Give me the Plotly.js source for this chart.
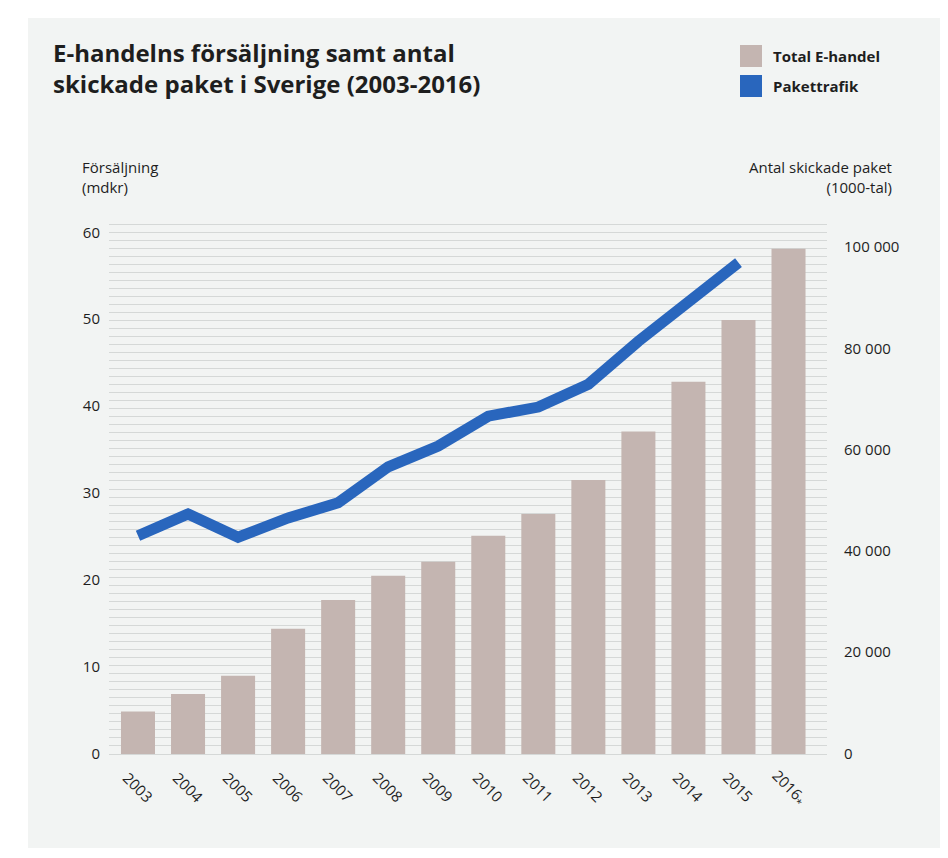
<!DOCTYPE html>
<html>
<head>
<meta charset="utf-8">
<script src="https://cdn.plot.ly/plotly-3.0.1.min.js"></script>
<style>html,body{margin:0;padding:0;background:#fff;}#chart{width:948px;height:858px;}
#chart .scatterlayer .js-line{stroke-linejoin:miter !important;stroke-linecap:butt !important;}</style>
</head>
<body>
<div id="chart"></div>
<script>
const years = ['2003','2004','2005','2006','2007','2008','2009','2010','2011','2012','2013','2014','2015','2016*'];
const yearLabels = ['2003','2004','2005','2006','2007','2008','2009','2010','2011','2012','2013','2014','2015','2016<sub>*</sub>'];
const sales = [4.9, 6.9, 9.0, 14.4, 17.7, 20.5, 22.1, 25.1, 27.6, 31.5, 37.1, 42.8, 49.9, 58.1];
const parcelYears = ['2003','2004','2005','2006','2007','2008','2009','2010','2011','2012','2013','2014','2015'];
const parcels = [43000, 47300, 42700, 46500, 49500, 56600, 60700, 66600, 68400, 72900, 81400, 89100, 96900];
const leftTicks = [0, 10, 20, 30, 40, 50, 60];
const rightTicks = [0, 20000, 40000, 60000, 80000, 100000];

const FONT = 'Open Sans, Noto Sans, sans-serif';
const TXT = '#1e1e1e';
const BAR = '#c4b5b1';
const LINE = '#2966bd';
const BG = '#f2f4f3';

const traces = [
  {type:'bar', x: years, y: sales, name:'Total E-handel', marker:{color:BAR}, width:0.68, xaxis:'x', yaxis:'y'},
  {type:'scatter', mode:'lines', x: parcelYears, y: parcels, name:'Pakettrafik', line:{color:LINE, width:11}, xaxis:'x', yaxis:'y2'},
  {type:'scatter', mode:'none', x:[years[0]], y:[0], yaxis:'y3', showlegend:false, hoverinfo:'skip'}
];

const px = v => (v - 109) / 718;
const py = v => (756 - v) / 534;
const annotations = [];
years.forEach((yr, i) => {
  annotations.push({x: i, xref:'x', y: py(787), yref:'paper', text: yearLabels[i], showarrow:false,
    textangle:45, xanchor:'center', yanchor:'middle', font:{family:FONT, size:15, color:TXT}});
});
annotations.push({x: px(80), xref:'paper', y: py(155), yref:'paper', xanchor:'left', yanchor:'top', align:'left',
  text:'Försäljning<br>(mdkr)', showarrow:false, font:{family:FONT, size:15, color:TXT}});
annotations.push({x: px(894), xref:'paper', y: py(155), yref:'paper', xanchor:'right', yanchor:'top', align:'right',
  text:'Antal skickade paket<br>(1000-tal)', showarrow:false, font:{family:FONT, size:15, color:TXT}});
annotations.push({x: px(771), xref:'paper', y: py(56), yref:'paper', xanchor:'left', yanchor:'middle',
  text:'<b>Total E-handel</b>', showarrow:false, font:{family:FONT, size:15, color:TXT}});
annotations.push({x: px(771), xref:'paper', y: py(86), yref:'paper', xanchor:'left', yanchor:'middle',
  text:'<b>Pakettrafik</b>', showarrow:false, font:{family:FONT, size:15, color:TXT}});

const shapes = [
  {type:'rect', xref:'paper', yref:'paper', x0: px(28), x1: px(940), y0: py(848), y1: py(18), fillcolor:BG, line:{width:0}, layer:'below'},
  {type:'rect', xref:'paper', yref:'paper', x0: px(740), x1: px(762), y0: py(67), y1: py(45), fillcolor:BAR, line:{width:0}},
  {type:'rect', xref:'paper', yref:'paper', x0: px(740), x1: px(762), y0: py(97), y1: py(75), fillcolor:LINE, line:{width:0}}
];

const layout = {
  width:948, height:858,
  margin:{l:109, r:121, t:222, b:102, pad:0},
  paper_bgcolor:'#ffffff', plot_bgcolor:'rgba(0,0,0,0)',
  separators:', ',
  showlegend:false,
  title:{text:'<b>E-handelns försäljning samt antal<br>skickade paket i Sverige (2003-2016)</b>', xref:'container', yref:'container',
    x:53/948, xanchor:'left', y:1-62/858, yanchor:'top', font:{family:FONT, size:24, color:TXT}},
  xaxis:{type:'category', categoryorder:'array', categoryarray: years, range:[-0.5795, 13.769], showticklabels:false, showgrid:false, zeroline:false, ticks:'', showline:false, fixedrange:true},
  yaxis:{range:[-0.23, 61.18], tickvals:leftTicks, showgrid:false, zeroline:false, ticks:'', ticklabelstandoff:8,
    tickfont:{family:FONT, size:15, color:TXT}, fixedrange:true},
  yaxis2:{overlaying:'y', side:'right', range:[-494, 104936], tickvals:rightTicks, tickformat:',d', showgrid:false, zeroline:false, ticks:'', ticklabelstandoff:16,
    tickfont:{family:FONT, size:15, color:TXT}, fixedrange:true},
  yaxis3:{overlaying:'y', range:[0, 534], tick0:2, dtick:8.03, showticklabels:false, showgrid:true, gridcolor:'#d5d8d7', gridwidth:1, zeroline:false, ticks:'', fixedrange:true},
  annotations, shapes
};

Plotly.newPlot('chart', traces, layout, {displayModeBar:false, staticPlot:true});
</script>
</body>
</html>
